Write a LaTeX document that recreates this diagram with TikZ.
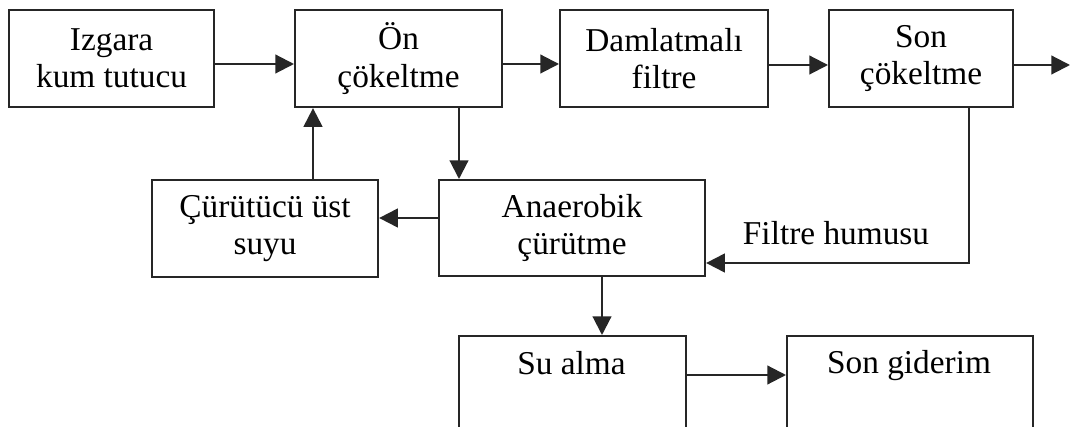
\documentclass[tikz,border=0pt]{standalone}
\usepackage{fontspec}
\setmainfont{Liberation Serif}
\usetikzlibrary{arrows.meta}

% sizes are given in pixel units: 1 unit = 0.75pt
\tikzset{
  stagebox/.style={draw=black!85, line width=1.6pt, rectangle, align=center,
    inner sep=0pt, anchor=north west,
    font=\fontsize{25}{28}\selectfont},
  boxsize/.style 2 args={minimum width=#1*0.75pt, minimum height=#2*0.75pt},
  caption/.style={inner sep=0pt, font=\fontsize{25}{28}\selectfont},
  flow/.style={draw=black!85, line width=1.6pt,
    -{Triangle[length=14pt,width=14pt]}},
}

\begin{document}
\begin{tikzpicture}[x=0.75pt, y=-0.75pt]
  % page frame (pixel units, y grows downward)
  \clip (0,0) rectangle (1071,427);
  \fill[white] (0,0) rectangle (1071,427);

  % top row
  \node[stagebox, boxsize={205}{97}] (izgara) at (8,9)
    {Izgara\\kum tutucu};
  \node[stagebox, boxsize={207}{97}] (on) at (294,9)
    {Ön\\çökeltme};
  \node[stagebox, boxsize={208}{97}] (damla) at (559,9)
    {Damlatmalı\\filtre};
  \node[stagebox, boxsize={184}{97}] (son) at (828,9)
    {Son\\çökeltme};

  % middle row
  \node[stagebox, boxsize={226}{97}] (curutucu) at (151,179)
    {Çürütücü üst\\suyu};
  \node[stagebox, boxsize={266}{96}] (anaerobik) at (438,179)
    {Anaerobik\\çürütme};

  % bottom row (runs off the lower edge)
  \node[stagebox, boxsize={227}{140}] (sualma) at (458,335) {};
  \node[stagebox, boxsize={246}{140}] (songiderim) at (786,335) {};
  \node[caption, anchor=base] (sualmaText) at (571.5,375) {Su alma};
  \node[caption, anchor=base] (songiderimText) at (909,374) {Son giderim};

  % label on the return line
  \node[caption] (humus) at (836,233) {Filtre humusu};

  \coordinate (out) at (1070,65);

  % connectors
  \draw[flow] (izgara.east |- 0,64) -- (on.west |- 0,64);
  \draw[flow] (on.east |- 0,64) -- (damla.west |- 0,64);
  \draw[flow] (damla.east |- 0,65) -- (son.west |- 0,65);
  \draw[flow] (son.east |- out) -- (out);
  \draw[flow] (on.south -| 459,0) -- (anaerobik.north -| 459,0);
  \draw[flow] (curutucu.north -| 313,0) -- (on.south -| 313,0);
  \draw[flow] (anaerobik.west |- 0,218) -- (curutucu.east |- 0,218);
  \draw[flow] (son.south -| 969,0) |- (anaerobik.east |- 0,263);
  \draw[flow] (anaerobik.south -| 602,0) -- (sualma.north -| 602,0);
  \draw[flow] (sualma.east |- 0,375) -- (songiderim.west |- 0,375);
\end{tikzpicture}
\end{document}
